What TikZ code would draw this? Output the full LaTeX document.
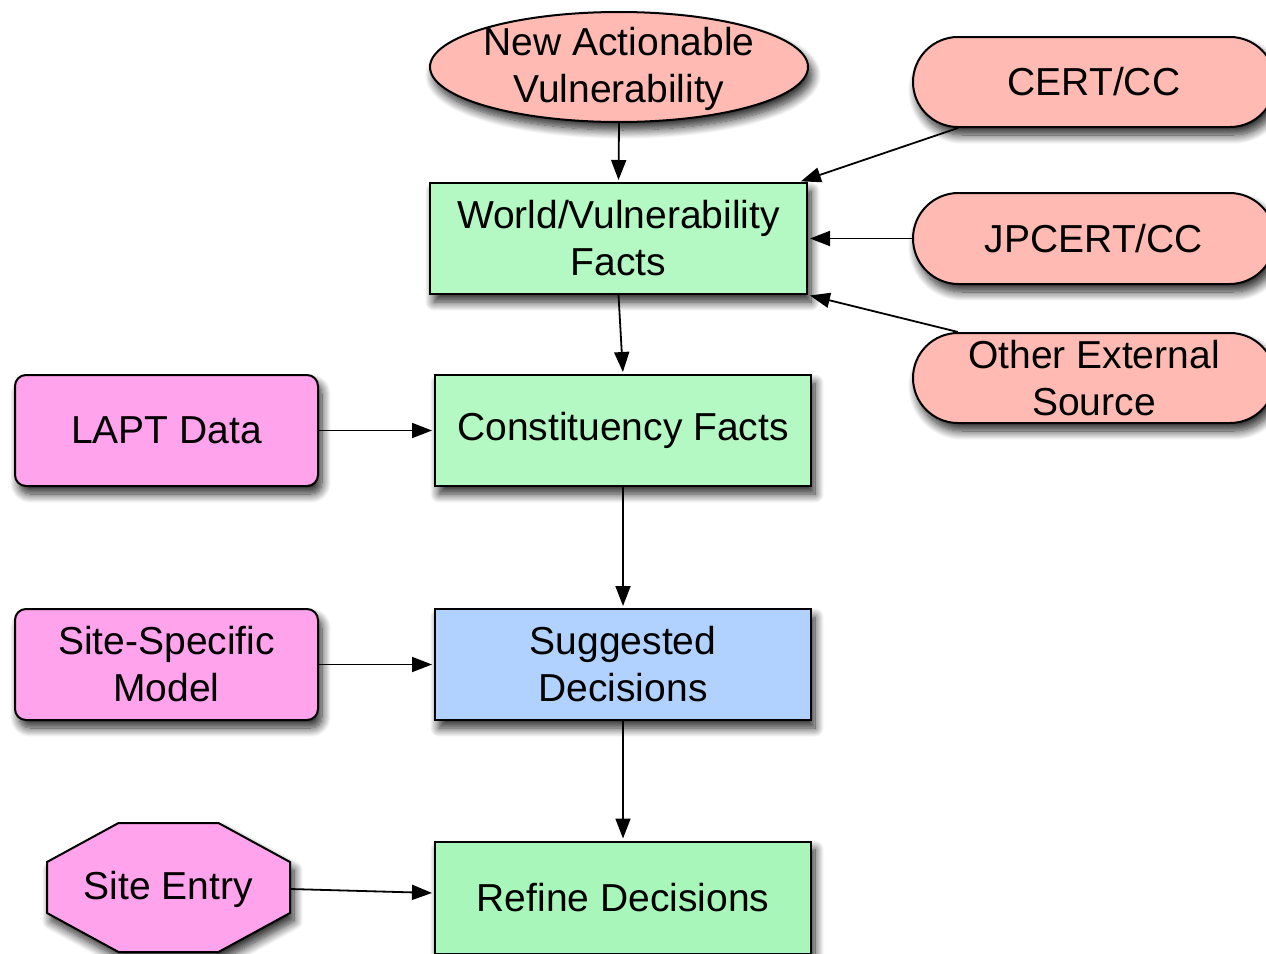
\documentclass[tikz,border=0pt]{standalone}
\usepackage{fontspec}
\setmainfont{Liberation Sans}
\usetikzlibrary{arrows.meta,shapes.geometric,shapes.misc,shadows.blur}

\definecolor{srcpink}{HTML}{FFBBB3}
\definecolor{factgreen}{HTML}{B4F8C3}
\definecolor{refinegreen}{HTML}{A9F6BA}
\definecolor{decblue}{HTML}{B1D1FE}
\definecolor{inmagenta}{HTML}{FFA4EC}

\begin{document}
\begin{tikzpicture}[x=1pt,y=-1pt,
  every node/.style={font=\fontsize{39}{47}\selectfont, align=center, text=black},
  softshadow/.style={blur shadow={shadow xshift=4pt,shadow yshift=-8pt,
      shadow blur radius=9pt,shadow blur steps=12,shadow opacity=85}},
  factbox/.style={rectangle, draw=black, line width=2pt, fill=factgreen,
      minimum width=376pt, minimum height=111pt, inner sep=0pt, softshadow},
  inputbox/.style={rectangle, rounded corners=11pt, draw=black, line width=2pt,
      fill=inmagenta, minimum width=303pt, minimum height=111pt, inner sep=0pt, softshadow},
  source/.style={rounded rectangle, draw=black, line width=2pt, fill=srcpink,
      minimum width=362pt, minimum height=90pt, inner sep=0pt, softshadow},
  conn/.style={line width=1.8pt, draw=black,
      -{Triangle[length=20pt,width=15pt]}, shorten >=2pt},
]
\clip (0,0) rectangle (1266,953);

% trigger
\node[ellipse, draw=black, line width=2pt, fill=srcpink, minimum width=378pt,
      minimum height=110pt, inner sep=0pt, softshadow,
      label={[align=center, yshift=-2pt]center:New Actionable\\Vulnerability}] (nav) at (619,67) {};

% fact boxes down the middle
\node[factbox, minimum width=377pt] (world) at (618.5,238.5) {World/Vulnerability\\Facts};
\node[factbox] (const) at (623,430.5) {Constituency Facts};
\node[factbox, fill=decblue] (sugg) at (623,664.5) {Suggested\\Decisions};
\node[factbox, fill=refinegreen, minimum height=112pt] (refine) at (623,897.5) {Refine Decisions};

% external sources
\node[source] (cert) at (1094,82) {CERT/CC};
\node[source, minimum height=91pt] (jp) at (1094,238.5) {JPCERT/CC};
\node[source] (other) at (1094,378) {Other External\\Source};

% local inputs
\node[inputbox] (lapt) at (166.5,430.5) {LAPT Data};
\node[inputbox] (model) at (166.5,664.5) {Site-Specific\\Model};

% octagonal entry point
\filldraw[draw=black, line width=2pt, fill=inmagenta, softshadow, shift={(168.5,887.5)}]
  (-50,-64.5) -- (50,-64.5) -- (121.5,-25.5) -- (121.5,25.5) -- (50,64.5)
  -- (-50,64.5) -- (-121.5,25.5) -- (-121.5,-25.5) -- cycle;
\node[minimum width=243pt, minimum height=129pt, inner sep=0pt] (entry) at (168.5,889) {Site Entry};

% connectors
\draw[conn] (nav.south) -- (world.north);
\draw[conn] (cert.south west) -- ([xshift=-9pt]world.north east);
\draw[conn] (jp.west) -- (world.east);
\draw[conn] (other.north west) -- (world.south east);
\draw[conn] (world.south) -- (const.north);
\draw[conn] (lapt.east) -- (const.west);
\draw[conn] (const.south) -- (sugg.north);
\draw[conn] (model.east) -- (sugg.west);
\draw[conn] (sugg.south) -- (refine.north);
\draw[conn] (entry.east) -- ([yshift=4.5pt]refine.west);
\end{tikzpicture}
\end{document}
